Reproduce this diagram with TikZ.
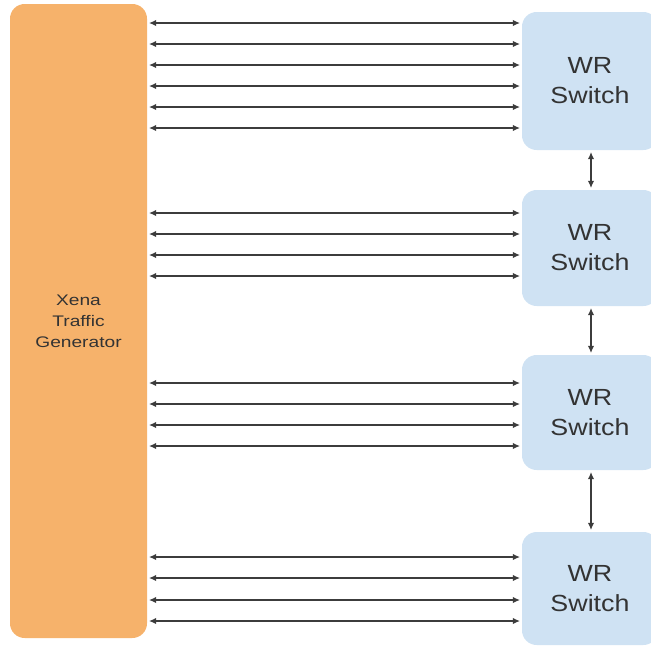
\documentclass[tikz,border=0pt]{standalone}
\usepackage{fontspec}
\setmainfont{Liberation Sans}
\newfontfamily\widesans[FakeStretch=1.15]{Liberation Sans}
\newfontfamily\widersans[FakeStretch=1.25]{Liberation Sans}
\usetikzlibrary{arrows.meta}
\definecolor{xenaorange}{HTML}{F6B26B}
\definecolor{wrblue}{HTML}{CFE2F3}
\definecolor{linkgray}{HTML}{3C3C3C}
\tikzset{
  gen/.style={fill=xenaorange, rounded corners=11pt, minimum width=102.75pt,
    minimum height=475.5pt, align=center, text=black!80,
    font=\widersans\fontsize{11.5}{15.75}\selectfont},
  wrsw/.style={fill=wrblue, rounded corners=11pt, minimum width=102pt,
    align=center, text=black!80, font=\widesans\fontsize{17.5}{22.5}\selectfont},
  link/.style={draw=linkgray, line width=1.3pt, shorten <=1.2pt, shorten >=1.2pt,
    {Latex[length=5.5pt,width=4.8pt]}-{Latex[length=5.5pt,width=4.8pt]}}
}
\begin{document}
\begin{tikzpicture}[x=0.75pt,y=-0.75pt]
    \useasboundingbox (0,0) rectangle (651,647);

    \node[gen] (xena) at (78.5,321) {Xena\\Traffic\\Generator};

    \node[wrsw, minimum height=103.5pt] (sw1) at (590,81) {WR\\Switch};
    \node[wrsw, minimum height=87pt] (sw2) at (590,248) {WR\\Switch};
    \node[wrsw, minimum height=86.25pt] (sw3) at (590,412.5) {WR\\Switch};
    \node[wrsw, minimum height=84.75pt] (sw4) at (590,588.5) {WR\\Switch};

    % ports to each switch
    \foreach \y in {23,44,65,86,107,128}
        \draw[link] (xena.east |- 0,\y) -- (sw1.west |- 0,\y);
    \foreach \y in {213,234,255,276}
        \draw[link] (xena.east |- 0,\y) -- (sw2.west |- 0,\y);
    \foreach \y in {383,404,425,446}
        \draw[link] (xena.east |- 0,\y) -- (sw3.west |- 0,\y);
    \foreach \y in {557,578,600,621}
        \draw[link] (xena.east |- 0,\y) -- (sw4.west |- 0,\y);

    % switch chain
    \draw[link] (sw1.south -| 591,0) -- (sw2.north -| 591,0);
    \draw[link] (sw2.south -| 591,0) -- (sw3.north -| 591,0);
    \draw[link] (sw3.south -| 591,0) -- (sw4.north -| 591,0);
\end{tikzpicture}
\end{document}
